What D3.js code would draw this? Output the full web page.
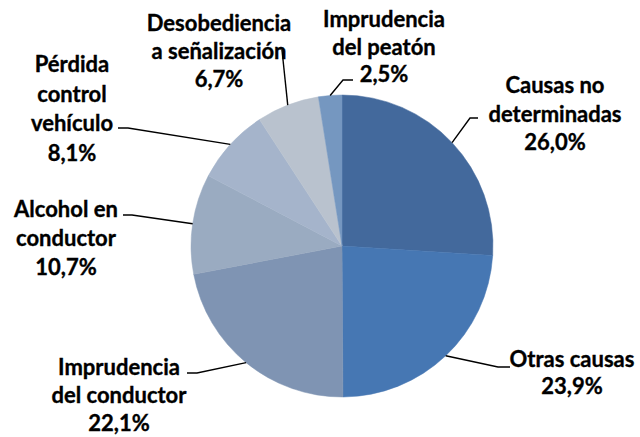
<!DOCTYPE html>
<meta charset="utf-8">
<style>
body, html {
  margin: 0;
  padding: 0;
  background: #fff;
  overflow: hidden;
}
text {
  font-family: Lato, "Noto Sans", sans-serif;
  font-weight: bold;
  font-size: 22px;
  fill: #000;
  stroke: #000;
  stroke-width: 0.35px;
}
.leader {
  fill: none;
  stroke: #000;
  stroke-width: 1.4px;
}
</style>
<svg width="640" height="437"></svg>
<script src="https://cdn.jsdelivr.net/npm/d3@7"></script>
<script>

// data
var categories = ["Causas no determinadas", "Otras causas", "Imprudencia del conductor",
    "Alcohol en conductor", "Pérdida control vehículo", "Desobediencia a señalización",
    "Imprudencia del peatón"];
var values = [26.0, 23.9, 22.1, 10.7, 8.1, 6.7, 2.5];
var colors = ["#43699c", "#4677b3", "#7f94b3", "#9aabc1", "#a5b4cb", "#b9c2ce", "#7597c0"];

// how the label text is broken into lines
var labelLines = [
  ["Causas no", "determinadas"],
  ["Otras causas"],
  ["Imprudencia", "del conductor"],
  ["Alcohol en", "conductor"],
  ["Pérdida", "control", "vehículo"],
  ["Desobediencia", "a señalización"],
  ["Imprudencia", "del peatón"]
];

// label layout: text centre x, first baseline y, line step, leader knee and end
var labelLayout = [
  {x: 555, y: 93,  dy: 28.5, knee: [470, 118], end: [478, 118]},
  {x: 572, y: 367, dy: 27,   knee: [498, 367], end: [510, 367]},
  {x: 119, y: 375, dy: 28,   knee: [197, 373], end: [187, 373]},
  {x: 66,  y: 217, dy: 29,   knee: [132, 215], end: [123, 215]},
  {x: 72,  y: 72,  dy: 29.5, knee: [128, 128], end: [118, 128]},
  {x: 219, y: 31,  dy: 28,   knee: [282, 50],  end: [282, 50]},
  {x: 384, y: 27,  dy: 27.5, knee: [343, 80],  end: [353, 80]}
];

var cx = 342, cy = 246, radius = 151;

var svg = d3.select("svg");
svg.append("rect").attr("width", 640).attr("height", 437).attr("fill", "#fff");

var data = categories.map(function(c, i) {
  return {name: c, value: values[i], color: colors[i], lines: labelLines[i], layout: labelLayout[i]};
});

var pie = d3.pie()
    .sort(null)
    .value(function(d) { return d.value; });

var arc = d3.arc()
    .innerRadius(0)
    .outerRadius(radius);

var edgeArc = d3.arc()
    .innerRadius(radius)
    .outerRadius(radius);

var g = svg.append("g")
    .attr("transform", "translate(" + cx + "," + cy + ")");

var arcs = pie(data);

g.selectAll("path.slice")
    .data(arcs)
  .enter().append("path")
    .attr("class", "slice")
    .attr("d", arc)
    .attr("fill", function(d) { return d.data.color; })
    .attr("stroke", function(d) { return d.data.color; })
    .attr("stroke-width", 0.5);

// leader lines
svg.selectAll("path.leader")
    .data(arcs)
  .enter().append("path")
    .attr("class", "leader")
    .attr("d", function(d) {
      var p = edgeArc.centroid(d),
          L = d.data.layout;
      return d3.line()([[p[0] + cx, p[1] + cy], L.knee, L.end]);
    });

var fmt = function(v) { return d3.format(".1f")(v).replace(".", ",") + "%"; };

var labels = svg.selectAll("text.label")
    .data(arcs)
  .enter().append("text")
    .attr("class", "label")
    .attr("text-anchor", "middle");

labels.each(function(d) {
  var t = d3.select(this),
      L = d.data.layout,
      lines = d.data.lines.concat([fmt(d.data.value)]);
  lines.forEach(function(s, i) {
    t.append("tspan")
        .attr("x", L.x)
        .attr("y", L.y + i * L.dy)
        .text(s);
  });
});

</script>
